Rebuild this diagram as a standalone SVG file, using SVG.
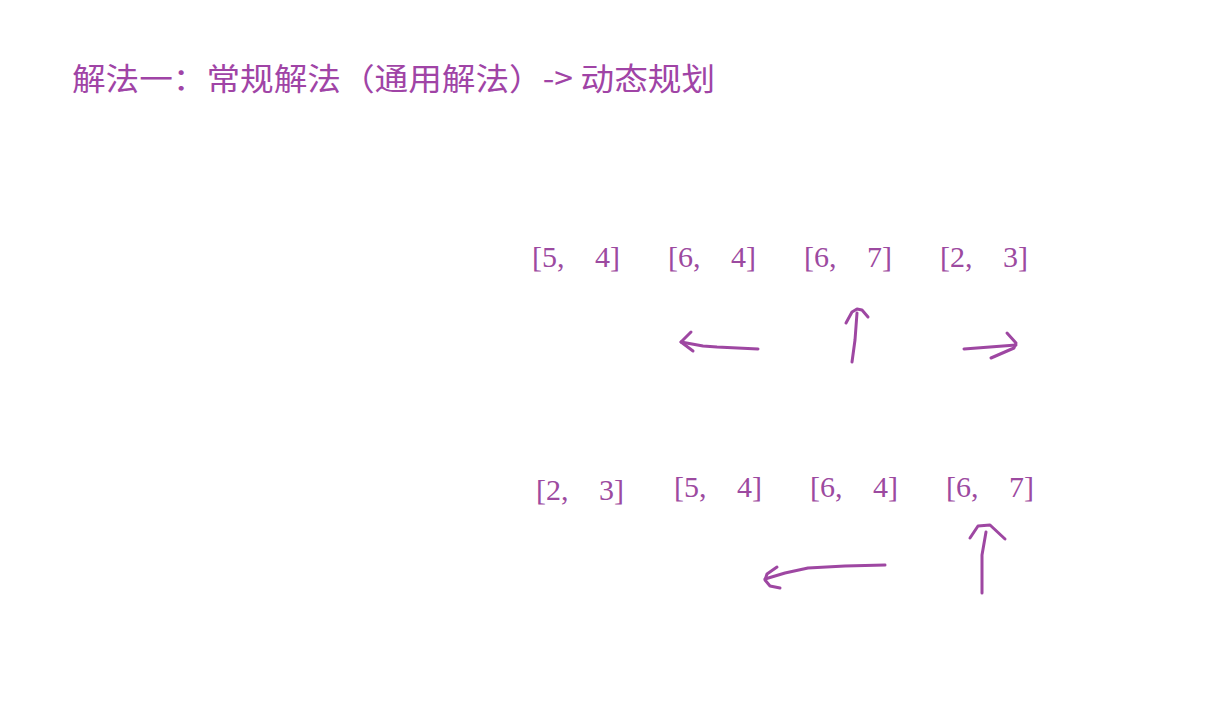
<svg xmlns="http://www.w3.org/2000/svg" width="1216" height="712" viewBox="0 0 1216 712">
<style>
.title{font-family:"Noto Sans CJK SC","Liberation Sans",sans-serif;font-size:31px;font-weight:400;fill:#a044a6;}
.pair{font-family:"Liberation Serif","Noto Sans CJK SC",serif;font-size:30px;fill:#9c4aa0;}
.stroke{fill:none;stroke:#9e47a2;stroke-width:3;stroke-linecap:round;stroke-linejoin:round;}
</style>
<rect width="1216" height="712" fill="#ffffff"/>
<g id="title">
<text class="title" x="72" y="90" textLength="643" lengthAdjust="spacingAndGlyphs">解法一：常规解法（通用解法）-&gt; 动态规划</text>
</g>
<g id="row1">
<g id="r1n1"><text class="pair" y="267"><tspan x="532">[5,</tspan><tspan x="595">4]</tspan></text></g>
<g id="r1n2"><text class="pair" y="267"><tspan x="668">[6,</tspan><tspan x="731">4]</tspan></text></g>
<g id="r1n3"><text class="pair" y="267"><tspan x="804">[6,</tspan><tspan x="867">7]</tspan></text></g>
<g id="r1n4"><text class="pair" y="267"><tspan x="940">[2,</tspan><tspan x="1003">3]</tspan></text></g>
</g>
<g id="row2">
<g id="r2n1"><text class="pair" y="500"><tspan x="536">[2,</tspan><tspan x="599">3]</tspan></text></g>
<g id="r2n2"><text class="pair" y="497"><tspan x="674">[5,</tspan><tspan x="737">4]</tspan></text></g>
<g id="r2n3"><text class="pair" y="497"><tspan x="810">[6,</tspan><tspan x="873">4]</tspan></text></g>
<g id="r2n4"><text class="pair" y="497"><tspan x="946">[6,</tspan><tspan x="1009">7]</tspan></text></g>
</g>
<g id="connectors">
<path class="stroke" d="M758 349 L717 347 L703 346 L681 342"/>
<path class="stroke" d="M691 332 L681 342 L693 351"/>
<path class="stroke" d="M852 362 L855 340 L857 313"/>
<path class="stroke" d="M846 323 L852 312 L857 309 L862 310 L868 317"/>
<path class="stroke" d="M964 349 L990 347 L1016 345"/>
<path class="stroke" d="M1007 333 L1016 343 L1014 348 L991 358"/>
<path class="stroke" d="M885 565 L845 566 L808 568 L785 573 L765 579"/>
<path class="stroke" d="M777 567 L767 574 L765 580 L770 586 L780 588"/>
<path class="stroke" d="M982 593 L982 555 L986 532"/>
<path class="stroke" d="M970 538 L978 526 L990 525 L1005 539"/>
</g>
</svg>
